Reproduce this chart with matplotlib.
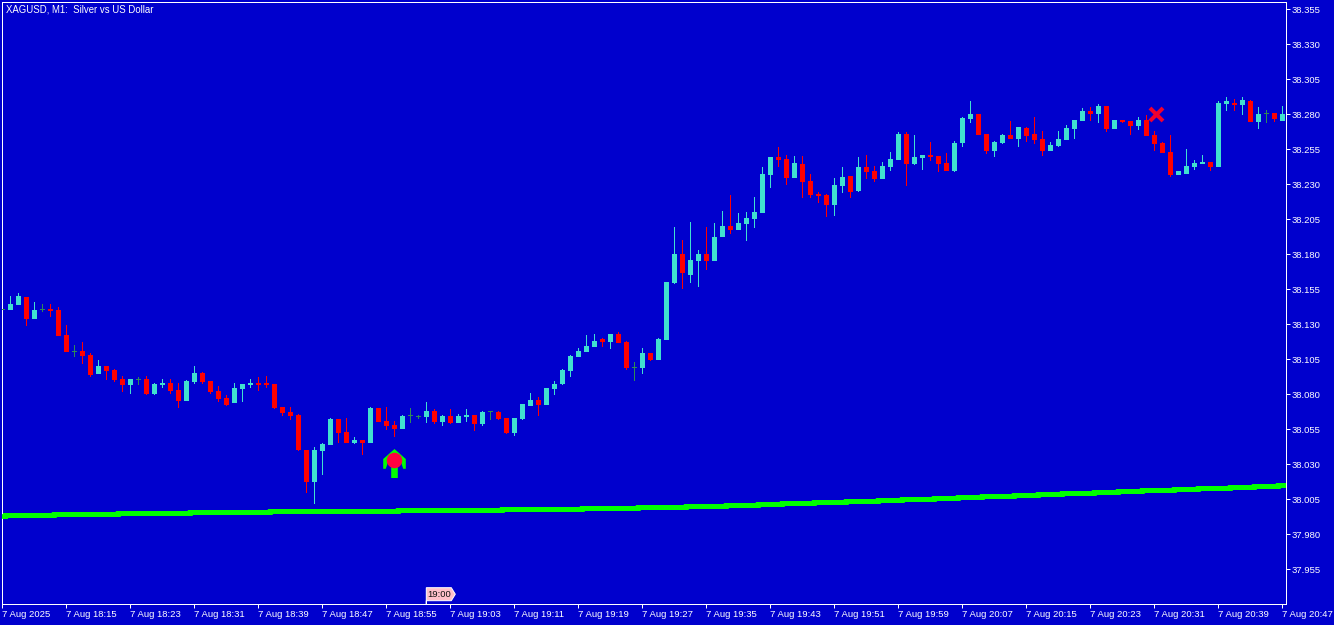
import numpy as np
import matplotlib
matplotlib.use('Agg')
import matplotlib.pyplot as plt
from matplotlib.path import Path
from matplotlib.patches import Polygon
from matplotlib.transforms import IdentityTransform

# XAGUSD M1 candles, one per minute from 18:07
opens = [38.1406,38.1402,38.1437,38.1495,38.1337,38.1409,38.1409,38.1402,38.1223,38.1109,
         38.1109,38.1080,38.0945,38.1002,38.0973,38.0909,38.0866,38.0909,38.0909,38.0802,
         38.0866,38.0880,38.0830,38.0752,38.0887,38.0952,38.0895,38.0823,38.0774,38.0738,
         38.0838,38.0867,38.0881,38.0881,38.0874,38.0710,38.0674,38.0653,38.0403,38.0174,
         38.0395,38.0438,38.0624,38.0531,38.0453,38.0474,38.0453,38.0703,38.0610,38.0581,
         38.0553,38.0645,38.0638,38.0638,38.0681,38.0602,38.0645,38.0595,38.0638,38.0652,
         38.0588,38.0674,38.0674,38.0631,38.0524,38.0624,38.0717,38.0760,38.0724,38.0838,
         38.0874,38.0967,38.1067,38.1102,38.1138,38.1195,38.1174,38.1231,38.1174,38.0993,
         38.0988,38.1095,38.1045,38.1188,38.1595,38.1802,38.1652,38.1752,38.1802,38.1752,
         38.1924,38.2002,38.1974,38.2016,38.2052,38.2095,38.2366,38.2495,38.2481,38.2345,
         38.2445,38.2324,38.2231,38.2224,38.2152,38.2288,38.2360,38.2253,38.2424,38.2395,
         38.2338,38.2424,38.2474,38.2660,38.2445,38.2488,38.2510,38.2503,38.2453,38.2395,
         38.2595,38.2767,38.2803,38.2660,38.2538,38.2595,38.2653,38.2624,38.2703,38.2660,
         38.2624,38.2538,38.2574,38.2617,38.2695,38.2753,38.2824,38.2803,38.2860,38.2695,
         38.2760,38.2753,38.2717,38.2760,38.2653,38.2595,38.2531,38.2367,38.2374,38.2424,
         38.2445,38.2460,38.2424,38.2874,38.2881,38.2867,38.2895,38.2745,38.2803,38.2810,38.2753]
highs = [38.1406,38.1502,38.1523,38.1495,38.1459,38.1445,38.1445,38.1421,38.1295,38.1152,
         38.1173,38.1095,38.1045,38.1002,38.0980,38.0930,38.0909,38.0923,38.0930,38.0880,
         38.0909,38.0909,38.0880,38.0902,38.1002,38.0959,38.0895,38.0859,38.0795,38.0881,
         38.0874,38.0910,38.0924,38.0931,38.0874,38.0710,38.0710,38.0660,38.0403,38.0424,
         38.0453,38.0631,38.0624,38.0631,38.0495,38.0474,38.0710,38.0703,38.0710,38.0610,
         38.0653,38.0703,38.0653,38.0745,38.0695,38.0652,38.0695,38.0660,38.0695,38.0652,
         38.0681,38.0681,38.0681,38.0631,38.0631,38.0731,38.0810,38.0781,38.0845,38.0895,
         38.0981,38.1081,38.1131,38.1224,38.1231,38.1202,38.1231,38.1245,38.1181,38.1031,
         38.1131,38.1095,38.1202,38.1602,38.1995,38.1902,38.2031,38.1831,38.1995,38.2024,
         38.2109,38.2224,38.2095,38.2102,38.2209,38.2424,38.2495,38.2566,38.2509,38.2502,
         38.2502,38.2374,38.2245,38.2231,38.2345,38.2424,38.2360,38.2495,38.2510,38.2431,
         38.2460,38.2531,38.2674,38.2674,38.2653,38.2510,38.2603,38.2503,38.2524,38.2610,
         38.2781,38.2895,38.2803,38.2660,38.2610,38.2660,38.2753,38.2710,38.2710,38.2781,
         38.2681,38.2603,38.2681,38.2724,38.2760,38.2845,38.2853,38.2874,38.2860,38.2760,
         38.2760,38.2753,38.2781,38.2795,38.2681,38.2603,38.2653,38.2395,38.2553,38.2474,
         38.2510,38.2460,38.2895,38.2924,38.2910,38.2924,38.2903,38.2853,38.2831,38.2810,38.2860]
lows = [38.1406,38.1402,38.1437,38.1287,38.1337,38.1387,38.1352,38.1216,38.1102,38.1066,
        38.1016,38.0923,38.0945,38.0902,38.0887,38.0816,38.0802,38.0866,38.0795,38.0795,
        38.0845,38.0802,38.0702,38.0752,38.0873,38.0873,38.0802,38.0745,38.0717,38.0738,
        38.0745,38.0845,38.0824,38.0845,38.0695,38.0645,38.0617,38.0395,38.0095,38.0017,
        38.0224,38.0438,38.0453,38.0453,38.0445,38.0367,38.0453,38.0603,38.0545,38.0495,
        38.0553,38.0595,38.0624,38.0595,38.0588,38.0574,38.0588,38.0595,38.0602,38.0538,
        38.0574,38.0617,38.0617,38.0517,38.0502,38.0617,38.0717,38.0645,38.0724,38.0795,
        38.0867,38.0924,38.1067,38.1102,38.1138,38.1138,38.1124,38.1167,38.0974,38.0895,
        38.0945,38.1038,38.1045,38.1188,38.1588,38.1552,38.1595,38.1566,38.1688,38.1752,
        38.1924,38.1945,38.1974,38.1895,38.1988,38.2095,38.2274,38.2424,38.2295,38.2345,
        38.2202,38.2202,38.2166,38.2066,38.2074,38.2238,38.2203,38.2245,38.2338,38.2317,
        38.2338,38.2395,38.2474,38.2288,38.2438,38.2403,38.2467,38.2388,38.2395,38.2388,
        38.2567,38.2738,38.2653,38.2517,38.2495,38.2588,38.2624,38.2567,38.2603,38.2588,
        38.2503,38.2538,38.2567,38.2617,38.2624,38.2753,38.2753,38.2738,38.2674,38.2695,
        38.2738,38.2653,38.2688,38.2645,38.2538,38.2524,38.2353,38.2367,38.2374,38.2403,
        38.2445,38.2395,38.2424,38.2824,38.2824,38.2795,38.2745,38.2695,38.2738,38.2745,38.2753]
closes = [38.1406,38.1445,38.1502,38.1337,38.1402,38.1409,38.1395,38.1216,38.1102,38.1109,
          38.1073,38.0937,38.1002,38.0966,38.0902,38.0866,38.0909,38.0909,38.0802,38.0873,
          38.0880,38.0823,38.0752,38.0895,38.0952,38.0887,38.0816,38.0766,38.0724,38.0845,
          38.0874,38.0881,38.0867,38.0867,38.0703,38.0667,38.0645,38.0403,38.0174,38.0403,
          38.0445,38.0624,38.0524,38.0453,38.0474,38.0453,38.0703,38.0603,38.0574,38.0553,
          38.0645,38.0645,38.0638,38.0681,38.0602,38.0645,38.0595,38.0645,38.0652,38.0588,
          38.0674,38.0674,38.0624,38.0524,38.0631,38.0731,38.0760,38.0724,38.0845,38.0874,
          38.0974,38.1074,38.1110,38.1145,38.1181,38.1174,38.1231,38.1167,38.0988,38.0993,
          38.1095,38.1045,38.1195,38.1602,38.1802,38.1666,38.1759,38.1802,38.1752,38.1924,
          38.2002,38.1974,38.2024,38.2059,38.2102,38.2374,38.2495,38.2474,38.2345,38.2452,
          38.2316,38.2224,38.2216,38.2152,38.2295,38.2353,38.2245,38.2424,38.2388,38.2338,
          38.2431,38.2481,38.2660,38.2445,38.2495,38.2510,38.2495,38.2445,38.2395,38.2595,
          38.2774,38.2803,38.2653,38.2538,38.2603,38.2653,38.2624,38.2710,38.2645,38.2617,
          38.2538,38.2581,38.2624,38.2703,38.2760,38.2824,38.2803,38.2860,38.2695,38.2760,
          38.2745,38.2717,38.2760,38.2645,38.2588,38.2524,38.2367,38.2395,38.2431,38.2453,
          38.2460,38.2424,38.2881,38.2895,38.2867,38.2903,38.2745,38.2803,38.2803,38.2767,38.2803]

# moving average, held level from each candle position
ma_index = [0.1,0.4,6.5,14.5,23.5,33.5,49.5,62.5,72.5,79.5,85.5,90.5,94.5,97.5,101.5,105.5,
            109.5,112.5,116.5,119.5,122.5,126.5,129.5,132.5,136.5,139.5,142.5,146.5,149.5,
            153.5,156.5,159.5,160.4]
ma_price = [37.99272,37.99343,37.99414,37.99486,37.99557,37.99629,37.99700,37.99771,37.99843,
            37.99914,37.99986,38.00057,38.00129,38.00200,38.00271,38.00343,38.00414,38.00486,
            38.00557,38.00629,38.00700,38.00771,38.00843,38.00914,38.00986,38.01057,38.01129,
            38.01200,38.01271,38.01343,38.01414,38.01486,38.01486]

buy_index = [49]
buy_price = [38.0306]
buy_dot_price = [38.0333]
close_index = [144.2]
close_price = [38.2800]

y_ticks = [38.355,38.330,38.305,38.280,38.255,38.230,38.205,38.180,38.155,38.130,38.105,38.080,
           38.055,38.030,38.005,37.980,37.955]
x_ticks = list(range(0, 161, 8))
x_labels = ['7 Aug 2025','7 Aug 18:15','7 Aug 18:23','7 Aug 18:31','7 Aug 18:39','7 Aug 18:47',
            '7 Aug 18:55','7 Aug 19:03','7 Aug 19:11','7 Aug 19:19','7 Aug 19:27','7 Aug 19:35',
            '7 Aug 19:43','7 Aug 19:51','7 Aug 19:59','7 Aug 20:07','7 Aug 20:15','7 Aug 20:23',
            '7 Aug 20:31','7 Aug 20:39','7 Aug 20:47']
tag_index = 53
tag_text = '19:00'

BLUE = '#0000CD'
UP = '#40E0D0'
DOWN = '#FF0000'
DOJI = '#2E8B57'
PX = 0.72  # one pixel in points at dpi 100
FONT = ['Liberation Sans', 'DejaVu Sans']
FS = 9.5 * PX

W, H = 1334, 625
fig = plt.figure(figsize=(W / 100, H / 100), dpi=100, facecolor=BLUE)
ax = fig.add_axes([2.2 / W, (H - 604.2) / H, 1284 / W, 602 / H], facecolor=BLUE)
ax.set_xlim(-0.0125, 160.4875)
ax.set_ylim(37.93007, 38.36007)

o = np.array(opens)
h = np.array(highs)
l = np.array(lows)
c = np.array(closes)
idx = np.arange(len(o))
up = c > o
down = c < o
doji = c == o

# wicks and bodies as bars so they land on whole pixels
for mask, col in [(up, UP), (down, DOWN), (doji, DOJI)]:
    ax.bar(idx[mask], (h - l)[mask], bottom=l[mask], width=1 / 8, color=col, lw=0, antialiased=False, zorder=2)
ax.bar(idx[up], (c - o)[up], bottom=o[up], width=5 / 8, color=UP, lw=0, antialiased=False, zorder=3)
ax.bar(idx[down], (c - o)[down], bottom=o[down], width=5 / 8, color=DOWN, lw=0, antialiased=False, zorder=3)
ax.bar(idx[doji], 1 / 1400, bottom=o[doji] - 0.5 / 1400, width=5 / 8, color=DOJI, lw=0, antialiased=False, zorder=3)

ax.plot(ma_index, ma_price, color='#00FF00', lw=5 * PX, drawstyle='steps-post', snap=False,
        solid_joinstyle='miter', solid_capstyle='round', zorder=4)

# buy signal arrow and dot
arrow = Path([(0, 14.5), (11.3, 4.5), (11.3, -5.3), (8.7, -5.3), (6.3, 2), (3.3, -3.5), (3.3, -14.5),
              (-3.3, -14.5), (-3.3, -3.5), (-6.3, 2), (-8.7, -5.3), (-11.3, -5.3), (-11.3, 4.5),
              (0, 14.5)], closed=True)
ax.plot(buy_index, buy_price, ls='', marker=arrow, ms=29 * PX, color='#00FF00', mew=0, zorder=5)
ax.plot(buy_index, buy_dot_price, ls='', marker='o', ms=15.5 * PX, color='#FF0040', mew=0, zorder=6)
ax.plot(close_index, close_price, ls='', marker='x', ms=13 * PX, mew=4 * PX, color='#F0002E', zorder=6)

for s in ax.spines.values():
    s.set_color('white')
    s.set_linewidth(PX)

ax.yaxis.tick_right()
ax.set_yticks(y_ticks)
ax.set_yticklabels(['%.3f' % v for v in y_ticks], family=FONT, fontsize=FS, color='white')
ax.set_xticks(x_ticks)
ax.set_xticklabels(x_labels, family=FONT, fontsize=FS, color='white', ha='left')
ax.tick_params(axis='y', length=4 * PX, width=PX, color='white', pad=0.8)
ax.tick_params(axis='x', length=4 * PX, width=PX, color='white', pad=1)

fig.text(6 / W, 1 - 9.5 / H, 'XAGUSD, M1:  Silver vs US Dollar', family=FONT, fontsize=9.65 * PX,
         color='white', va='center', ha='left')

# time tag sitting on the bottom axis
tx, ty = ax.transData.transform((tag_index, ax.get_ylim()[0]))
tag = Polygon([(tx, ty), (tx, ty + 16.5), (tx + 25, ty + 16.5), (tx + 29, ty + 10), (tx + 25, ty + 3.5),
               (tx, ty + 3.5)], closed=True, facecolor='#FFC0CB', edgecolor='white', lw=PX,
              transform=IdentityTransform(), zorder=7, clip_on=False)
fig.add_artist(tag)
fig.text((tx + 13) / W, (ty + 10) / H, tag_text, family=FONT, fontsize=FS, color='#101010',
         va='center', ha='center', zorder=8)

fig.savefig('out.png', dpi=100, facecolor=BLUE)
